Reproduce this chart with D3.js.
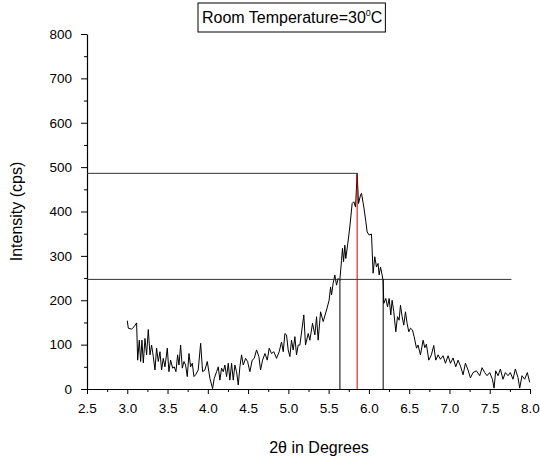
<!DOCTYPE html>
<html>
<head>
<meta charset="utf-8">
<script src="https://cdn.jsdelivr.net/npm/d3@7"></script>
<style>
  body { margin: 0; background: #fff; }
  svg { font-family: "Liberation Sans", Arial, sans-serif; }
  .axis path, .axis line { stroke: #000; }
  .axis text { font-size: 13.5px; fill: #000; }
</style>
</head>
<body>
<svg id="chart" width="540" height="461"></svg>
<script>
// 2theta (degrees) and intensity (cps)
const twoTheta = [
  3.0, 3.013, 3.054, 3.083, 3.116, 3.129, 3.149, 3.166, 3.182, 3.199, 3.22, 3.24, 3.261, 3.282, 3.302,
  3.323, 3.344, 3.364, 3.385, 3.406, 3.426, 3.447, 3.468, 3.497, 3.517, 3.538, 3.563, 3.584, 3.604, 3.625,
  3.642, 3.662, 3.683, 3.704, 3.724, 3.745, 3.766, 3.786, 3.807, 3.828, 3.848, 3.881, 3.911, 3.935, 3.964,
  3.993, 4.026, 4.059, 4.08, 4.109, 4.13, 4.15, 4.171, 4.192, 4.212, 4.233, 4.254, 4.274, 4.295, 4.316,
  4.336, 4.357, 4.378, 4.398, 4.419, 4.44, 4.469, 4.494, 4.522, 4.551, 4.576, 4.605, 4.634, 4.655, 4.68,
  4.709, 4.738, 4.762, 4.791, 4.82, 4.853, 4.886, 4.915, 4.936, 4.957, 4.977, 4.998, 5.019, 5.039, 5.06,
  5.081, 5.101, 5.122, 5.143, 5.192, 5.213, 5.246, 5.267, 5.3, 5.329, 5.35, 5.37, 5.4, 5.432, 5.474,
  5.506, 5.524, 5.536, 5.556, 5.577, 5.598, 5.618, 5.639, 5.66, 5.672, 5.685, 5.701, 5.713, 5.735, 5.763,
  5.792, 5.813, 5.834, 5.854, 5.871, 5.896, 5.908, 5.937, 5.962, 5.978, 6.002, 6.032, 6.052, 6.073, 6.094,
  6.114, 6.127, 6.144, 6.164, 6.176, 6.185, 6.21, 6.231, 6.251, 6.272, 6.288, 6.309, 6.334, 6.355, 6.375,
  6.392, 6.412, 6.433, 6.454, 6.474, 6.495, 6.516, 6.541, 6.561, 6.591, 6.61, 6.64, 6.673, 6.694, 6.714,
  6.743, 6.776, 6.805, 6.83, 6.859, 6.888, 6.921, 6.95, 6.983, 7.012, 7.045, 7.078, 7.107, 7.14, 7.169,
  7.198, 7.231, 7.26, 7.293, 7.335, 7.376, 7.405, 7.438, 7.467, 7.5, 7.533, 7.554, 7.574, 7.603, 7.632,
  7.665, 7.694, 7.727, 7.756, 7.789, 7.818, 7.851, 7.872, 7.901, 7.934, 7.967, 7.996
];
const intensity = [
  154, 137, 135, 140, 149, 65, 110, 62, 110, 59, 114, 77, 134, 77, 99,
  73, 43, 92, 62, 84, 43, 69, 50, 92, 39, 65, 47, 50, 39, 77,
  54, 99, 47, 62, 54, 28, 80, 50, 58, 28, 32, 43, 103, 39, 43,
  62, 24, 1, 24, 39, 50, 20, 47, 39, 54, 28, 58, 20, 58, 20,
  54, 39, 9, 50, 77, 54, 69, 62, 39, 65, 69, 88, 73, 43, 65,
  80, 65, 92, 80, 84, 69, 84, 106, 84, 125, 122, 88, 73, 110, 88,
  118, 77, 99, 99, 167, 99, 125, 110, 148, 122, 163, 110, 174, 152, 178,
  200, 230, 212, 238, 257, 234, 249, 245, 290, 317, 287, 324, 294, 324, 365,
  418, 422, 410, 486, 418, 437, 441, 410, 377, 354, 347, 349, 261, 298, 275,
  283, 257, 275, 257, 245, 193, 204, 185, 204, 167, 200, 174, 129, 163, 155,
  189, 163, 144, 174, 148, 129, 137, 133, 118, 92, 99, 77, 110, 93, 101,
  65, 77, 98, 65, 77, 67, 75, 58, 75, 58, 70, 50, 65, 50, 32,
  58, 43, 25, 37, 41, 30, 48, 37, 30, 37, 22, 2, 41, 30, 45,
  22, 37, 30, 37, 22, 45, 26, 2, 30, 22, 37, 15
];

// peak height and half-maximum markers
const peakTheta = 5.854;
const peakHeight = 486;
const halfHeight = 247;
const halfLeft = 5.64;
const halfRight = 6.177;
const halfLineEnd = 7.77;

const xTicks = [2.5, 3.0, 3.5, 4.0, 4.5, 5.0, 5.5, 6.0, 6.5, 7.0, 7.5, 8.0];
const yTicks = [0, 100, 200, 300, 400, 500, 600, 700, 800];

const titleText = 'Room Temperature=30';
const xTitle = '2θ in Degrees';
const yTitle = 'Intensity (cps)';

const svg = d3.select('#chart');

const x = d3.scaleLinear().domain([2.5, 8.0]).range([87, 530]);
const y = d3.scaleLinear().domain([0, 800]).range([389, 34]);

// minor ticks at half steps
const xMinor = d3.range(2.75, 8.0, 0.5);
const yMinor = d3.range(50, 800, 100);

svg.append('g')
  .attr('class', 'axis')
  .attr('transform', `translate(0,${y(0)})`)
  .call(d3.axisBottom(x).tickValues(xMinor).tickSize(3).tickFormat(''))
  .call(g => g.select('.domain').remove());

svg.append('g')
  .attr('class', 'axis')
  .attr('transform', `translate(0,${y(0)})`)
  .call(d3.axisBottom(x).tickValues(xTicks).tickSize(5).tickSizeOuter(0).tickPadding(9).tickFormat(d3.format('.1f')));

svg.append('g')
  .attr('class', 'axis')
  .attr('transform', `translate(${x(2.5)},0)`)
  .call(d3.axisLeft(y).tickValues(yMinor).tickSize(3).tickFormat(''))
  .call(g => g.select('.domain').remove());

svg.append('g')
  .attr('class', 'axis')
  .attr('transform', `translate(${x(2.5)},0)`)
  .call(d3.axisLeft(y).tickValues(yTicks).tickSize(6).tickSizeOuter(0).tickPadding(9));

svg.selectAll('.axis .domain').attr('stroke-width', 1.2);

// data curve
const pts = twoTheta.map((t, i) => [t, intensity[i]]);
const line = d3.line().x(d => x(d[0])).y(d => y(d[1]));

svg.append('path')
  .datum(pts)
  .attr('fill', 'none')
  .attr('stroke', '#000')
  .attr('stroke-width', 1)
  .attr('d', line);

// marker lines
const guides = svg.append('g').attr('fill', 'none').attr('stroke-width', 1);
guides.append('line')
  .attr('x1', x(2.5)).attr('x2', x(peakTheta))
  .attr('y1', y(peakHeight)).attr('y2', y(peakHeight))
  .attr('stroke', '#333');
guides.append('line')
  .attr('x1', x(2.5)).attr('x2', x(halfLineEnd))
  .attr('y1', y(halfHeight)).attr('y2', y(halfHeight))
  .attr('stroke', '#333');
guides.append('line')
  .attr('x1', x(halfLeft)).attr('x2', x(halfLeft))
  .attr('y1', y(halfHeight)).attr('y2', y(0))
  .attr('stroke', '#000');
guides.append('line')
  .attr('x1', x(halfRight)).attr('x2', x(halfRight))
  .attr('y1', y(halfHeight)).attr('y2', y(0))
  .attr('stroke', '#000');
guides.append('line')
  .attr('x1', x(peakTheta)).attr('x2', x(peakTheta))
  .attr('y1', y(peakHeight)).attr('y2', y(0))
  .attr('stroke', '#d00000');

// axis titles
svg.append('text')
  .attr('x', 319).attr('y', 453)
  .attr('text-anchor', 'middle')
  .attr('font-size', 16)
  .text(xTitle);

svg.append('text')
  .attr('transform', `translate(22,${(y(0) + y(800)) / 2}) rotate(-90)`)
  .attr('text-anchor', 'middle')
  .attr('font-size', 16)
  .text(yTitle);

// boxed title
const title = svg.append('text')
  .attr('x', 202).attr('y', 23)
  .attr('font-size', 16);
title.append('tspan').text(titleText);
title.append('tspan').attr('font-size', 9).attr('dy', -7).text('0');
title.append('tspan').attr('dy', 7).text('C');

const bb = title.node().getBBox();
svg.append('rect')
  .attr('x', bb.x - 4).attr('y', 3)
  .attr('width', bb.width + 7).attr('height', 29)
  .attr('fill', 'none')
  .attr('stroke', '#000')
  .attr('stroke-width', 1);
</script>
</body>
</html>
